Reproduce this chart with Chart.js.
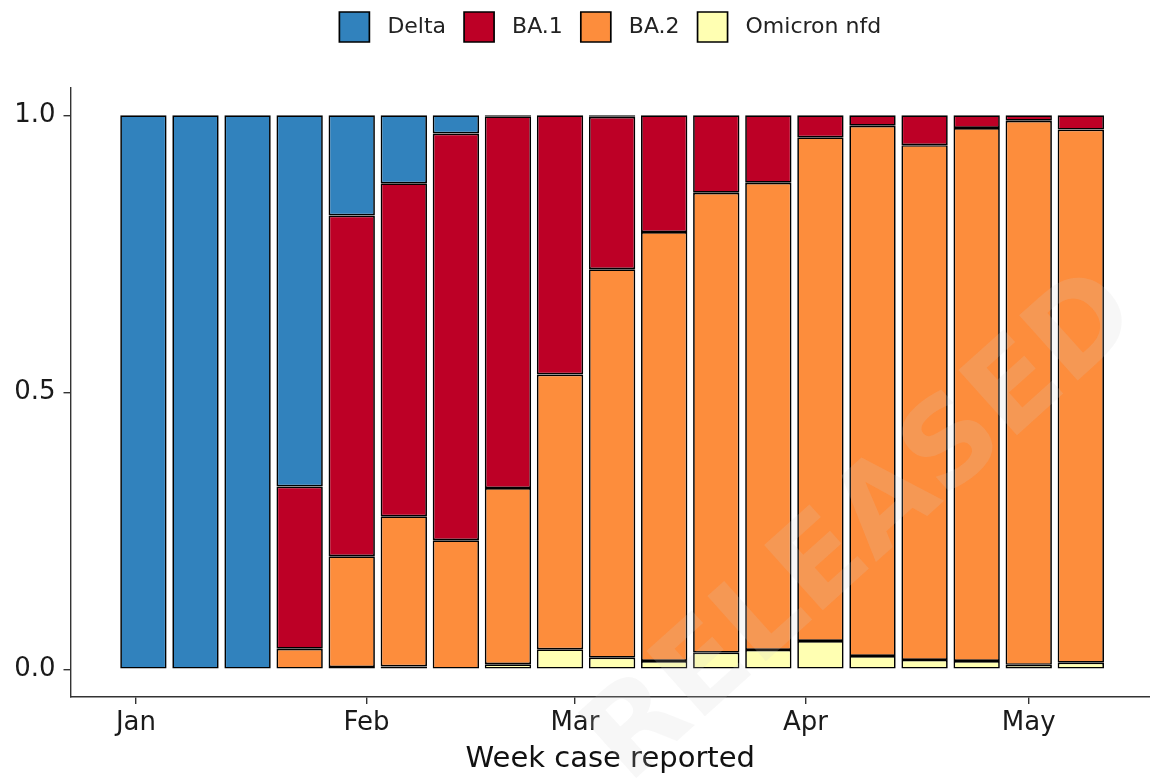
<!DOCTYPE html>
<html>
<head>
<meta charset="utf-8">
<title>Variant proportions by week</title>
<script src="https://cdn.jsdelivr.net/npm/chart.js@4.4.1/dist/chart.umd.min.js"></script>
<style>
  html, body { margin: 0; padding: 0; background: #fff; overflow: hidden; }
</style>
</head>
<body>
<canvas id="chart" width="1150" height="778"></canvas>
<script>
// weekly proportion of sequenced cases by variant, 2022

const weeks = ['2022-01-02', '2022-01-09', '2022-01-16', '2022-01-23', '2022-01-30',
               '2022-02-06', '2022-02-13', '2022-02-20', '2022-02-27', '2022-03-06',
               '2022-03-13', '2022-03-20', '2022-03-27', '2022-04-03', '2022-04-10',
               '2022-04-17', '2022-04-24', '2022-05-01', '2022-05-08'];

const delta      = [1, 1, 1, 0.670, 0.181, 0.123, 0.033, 0.002, 0, 0.003, 0, 0, 0, 0, 0, 0, 0, 0, 0];
const ba1        = [0, 0, 0, 0.293, 0.615, 0.601, 0.734, 0.671, 0.468, 0.275, 0.211, 0.140, 0.122, 0.040, 0.019, 0.054, 0.023, 0.010, 0.026];
const ba2        = [0, 0, 0, 0.037, 0.200, 0.271, 0.233, 0.318, 0.496, 0.701, 0.774, 0.830, 0.843, 0.909, 0.957, 0.929, 0.962, 0.982, 0.962];
const omicronNfd = [0, 0, 0, 0, 0.004, 0.005, 0, 0.009, 0.036, 0.021, 0.015, 0.030, 0.035, 0.051, 0.024, 0.017, 0.015, 0.008, 0.012];

const monthStarts = ['2022-01-01', '2022-02-01', '2022-03-01', '2022-04-01', '2022-05-01'];
const monthLabels = ['Jan', 'Feb', 'Mar', 'Apr', 'May'];
const yTicks = [0, 0.5, 1];

// x axis is days since 1 Jan (no date adapter available)
const day0 = Date.parse('2022-01-01');
const toDay = d => (Date.parse(d) - day0) / 864e5;
const weekDays = weeks.map(toDay);
const monthDays = monthStarts.map(toDay);

// zero shares are left out so they don't draw an empty outlined bar
const series = vals => vals.map((v, i) => ({ x: weekDays[i], y: v || null }));

Chart.defaults.font.family = '"DejaVu Sans", sans-serif';
Chart.defaults.color = '#222';

// extra room between the legend and the plot
const legendGap = {
  id: 'legendGap',
  beforeInit(chart) {
    const fit = chart.legend.fit;
    chart.legend.fit = function () {
      fit.bind(chart.legend)();
      this.height += 35.5;
    };
  }
};

// faint diagonal stamp across the plot
const stamp = {
  id: 'stamp',
  afterDraw(chart) {
    const ctx = chart.ctx;
    ctx.save();
    ctx.translate(865, 530);
    ctx.rotate(-42 * Math.PI / 180);
    ctx.font = 'bold 120px "DejaVu Sans"';
    ctx.fillStyle = 'rgba(210, 210, 210, 0.17)';
    ctx.textAlign = 'center';
    ctx.textBaseline = 'middle';
    ctx.fillText('RELEASED', 0, 0);
    ctx.restore();
  }
};

const barStyle = {
  borderColor: '#000',
  borderWidth: 1.7,
  borderSkipped: false,
  barPercentage: 0.89,
  categoryPercentage: 1
};

const ctx = document.getElementById('chart').getContext('2d');
new Chart(ctx, {
  type: 'bar',
  data: {
    // bottom of the stack first
    datasets: [
      { label: 'Omicron nfd', data: series(omicronNfd), backgroundColor: '#ffffb2', ...barStyle },
      { label: 'BA.2',        data: series(ba2),        backgroundColor: '#fd8d3c', ...barStyle },
      { label: 'BA.1',        data: series(ba1),        backgroundColor: '#bd0026', ...barStyle },
      { label: 'Delta',       data: series(delta),      backgroundColor: '#3182bd', ...barStyle }
    ]
  },
  options: {
    responsive: false,
    animation: false,
    layout: { padding: { top: -6, left: 0, right: 0, bottom: 0 } },
    plugins: {
      tooltip: { enabled: false },
      legend: {
        position: 'top',
        fullSize: false,
        reverse: true,
        labels: {
          boxWidth: 30,
          boxHeight: 30,
          padding: 18,
          font: { size: 22 },
          color: '#222',
          generateLabels: chart => Chart.defaults.plugins.legend.labels.generateLabels(chart)
            .map(item => ({ ...item, text: ' ' + item.text }))
        }
      }
    },
    scales: {
      x: {
        type: 'linear',
        stacked: true,
        offset: false,
        min: -8.8,
        max: 136.3,
        afterBuildTicks: scale => { scale.ticks = monthDays.map(v => ({ value: v })); },
        afterFit: scale => { scale.height = 81; },
        ticks: {
          callback: (v, i) => monthLabels[i],
          font: { size: 26 },
          color: '#1a1a1a',
          padding: 4,
          maxRotation: 0,
          autoSkip: false
        },
        grid: { offset: false, drawOnChartArea: false, tickLength: 7, color: '#333', lineWidth: 1.4 },
        border: { display: true, color: '#333', width: 1.4 },
        title: {
          display: true,
          text: 'Week case reported',
          font: { size: 29 },
          color: '#111',
          padding: { top: 0, bottom: 1 }
        }
      },
      y: {
        stacked: true,
        min: -0.05,
        max: 1.05,
        afterBuildTicks: scale => { scale.ticks = yTicks.map(v => ({ value: v })); },
        afterFit: scale => { scale.width = 70.5; },
        ticks: {
          callback: v => v.toFixed(1),
          font: { size: 26 },
          color: '#1a1a1a',
          padding: 8
        },
        grid: { drawOnChartArea: false, tickLength: 7, color: '#333', lineWidth: 1.4 },
        border: { display: true, color: '#333', width: 1.4 }
      }
    }
  },
  plugins: [legendGap, stamp]
});
</script>
</body>
</html>
